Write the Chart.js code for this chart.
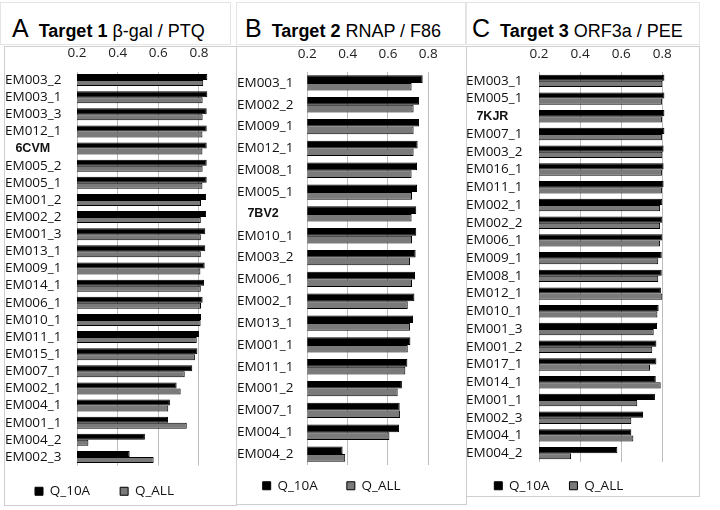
<!DOCTYPE html>
<html>
<head>
<meta charset="utf-8">
<script src="https://cdn.jsdelivr.net/npm/chart.js@4/dist/chart.umd.min.js"></script>
<style>
  body { margin: 0; background: #fff; }
  #page { position: relative; width: 720px; height: 510px; overflow: hidden; }
  .box { position: absolute; border: 1px solid #cfcfcf; box-sizing: border-box; }
  .tbox { position: absolute; border: 1px solid #e4e4e4; box-sizing: border-box; }
  .title { position: absolute; font-family: 'Liberation Sans', Arial, sans-serif; font-size: 18px; line-height: 24px; color: #000; white-space: nowrap; }
  .title .big { font-size: 25px; margin-right: 5px; }
  canvas { position: absolute; }
</style>
</head>
<body>
<div id="page">
  <div class="tbox" style="left:0;top:2px;width:231px;height:43px"></div>
  <div class="tbox" style="left:236px;top:2px;width:230px;height:43px"></div>
  <div class="tbox" style="left:466px;top:2px;width:234px;height:43px"></div>

  <div class="box" style="left:4px;top:46px;width:233px;height:460px"></div>
  <div class="box" style="left:236px;top:46px;width:231px;height:459px"></div>
  <div class="box" style="left:466px;top:46px;width:234px;height:451px"></div>

  <div class="title" style="left:12px;top:16px"><span class="big">A</span> <b>Target 1</b> β-gal / PTQ</div>
  <div class="title" style="left:245px;top:16px"><span class="big">B</span> <b>Target 2</b> RNAP / F86</div>
  <div class="title" style="left:472px;top:16px"><span class="big">C</span> <b>Target 3</b> ORF3a / PEE</div>

  <canvas id="chartA" width="228" height="461" style="left:5px;top:45px"></canvas>
  <canvas id="chartB" width="227" height="460" style="left:237px;top:45px"></canvas>
  <canvas id="chartC" width="228" height="452" style="left:466px;top:45px"></canvas>
</div>

<script>
// datos
const seriesNames = ['Q_10A', 'Q_ALL'];
const xTicks = [0.2, 0.4, 0.6, 0.8];

const catsA = ['EM003_2', 'EM003_1', 'EM003_3', 'EM012_1', '6CVM', 'EM005_2', 'EM005_1', 'EM001_2',
  'EM002_2', 'EM001_3', 'EM013_1', 'EM009_1', 'EM014_1', 'EM006_1', 'EM010_1', 'EM011_1',
  'EM015_1', 'EM007_1', 'EM002_1', 'EM004_1', 'EM001_1', 'EM004_2', 'EM002_3'];
const q10A_A = [0.841, 0.841, 0.838, 0.838, 0.838, 0.838, 0.838, 0.835, 0.835, 0.831, 0.831, 0.828,
  0.825, 0.818, 0.810, 0.800, 0.792, 0.767, 0.690, 0.657, 0.648, 0.534, 0.459];
const qAll_A = [0.821, 0.818, 0.818, 0.817, 0.817, 0.818, 0.817, 0.810, 0.809, 0.809, 0.809, 0.807,
  0.809, 0.810, 0.808, 0.789, 0.780, 0.730, 0.710, 0.649, 0.740, 0.256, 0.577];

const catsB = ['EM003_1', 'EM002_2', 'EM009_1', 'EM012_1', 'EM008_1', 'EM005_1', '7BV2', 'EM010_1',
  'EM003_2', 'EM006_1', 'EM002_1', 'EM013_1', 'EM001_1', 'EM011_1', 'EM001_2', 'EM007_1',
  'EM004_1', 'EM004_2'];
const q10A_B = [0.772, 0.754, 0.754, 0.747, 0.744, 0.744, 0.740, 0.740, 0.737, 0.734, 0.731, 0.724,
  0.711, 0.696, 0.669, 0.658, 0.655, 0.375];
const qAll_B = [0.717, 0.727, 0.727, 0.727, 0.717, 0.719, 0.717, 0.719, 0.709, 0.719, 0.698, 0.709,
  0.698, 0.686, 0.648, 0.660, 0.607, 0.388];

const catsC = ['EM003_1', 'EM005_1', '7KJR', 'EM007_1', 'EM003_2', 'EM016_1', 'EM011_1', 'EM002_1',
  'EM002_2', 'EM006_1', 'EM009_1', 'EM008_1', 'EM012_1', 'EM010_1', 'EM001_3', 'EM001_2',
  'EM017_1', 'EM014_1', 'EM001_1', 'EM002_3', 'EM004_1', 'EM004_2'];
const q10A_C = [0.810, 0.810, 0.810, 0.810, 0.806, 0.806, 0.806, 0.800, 0.800, 0.800, 0.797, 0.797,
  0.793, 0.782, 0.774, 0.771, 0.771, 0.768, 0.764, 0.706, 0.649, 0.581];
const qAll_C = [0.800, 0.798, 0.798, 0.798, 0.800, 0.798, 0.798, 0.789, 0.789, 0.789, 0.780, 0.780,
  0.800, 0.776, 0.758, 0.751, 0.740, 0.792, 0.678, 0.649, 0.659, 0.356];

// mueve la leyenda un poco (dx, dy); el borde de abajo queda al final del canvas
const moverLeyenda = {
  id: 'moverLeyenda',
  afterLayout(chart, args, opts) {
    const lg = chart.legend;
    if (!lg) return;
    lg.left += opts.dx; lg.right += opts.dx;
    lg.top += opts.dy;
    lg.bottom = chart.height;
  }
};

function crearPanel(id, cats, serie1, serie2, refLabel, lay) {
  const ctx = document.getElementById(id).getContext('2d');
  return new Chart(ctx, {
    type: 'bar',
    data: {
      labels: cats,
      datasets: [
        { label: seriesNames[0], data: serie1, backgroundColor: '#000000', borderColor: '#000000', borderWidth: 1 },
        { label: seriesNames[1], data: serie2, backgroundColor: '#7a7a7a', borderColor: '#000000', borderWidth: 1 }
      ]
    },
    options: {
      indexAxis: 'y',
      responsive: false,
      animation: false,
      categoryPercentage: 0.7,
      barPercentage: 1.0,
      layout: { padding: { left: 0, right: lay.right, top: 0, bottom: 0 } },
      scales: {
        x: {
          position: 'top',
          min: 0.2,
          max: 0.9,
          afterBuildTicks: a => { a.ticks = xTicks.map(v => ({ value: v })); },
          afterFit: a => { a.height = lay.top; },
          grid: { color: '#bdbdbd', drawTicks: false },
          border: { display: false },
          ticks: { padding: 10, color: '#222', font: { family: 'Open Sans', size: 13.5 }, callback: v => v.toFixed(1) }
        },
        y: {
          afterFit: a => { a.width = lay.yw; },
          grid: { display: false },
          border: { display: false },
          ticks: {
            crossAlign: 'far',
            padding: 0,
            autoSkip: false,
            color: '#111',
            font: c => cats[c.index] === refLabel
              ? { family: 'Liberation Sans', size: 12.5, weight: 'bold' }
              : { family: 'Open Sans', size: 13.5 },
            callback: (v, i) => cats[i] === refLabel ? '   ' + cats[i] : cats[i]
          }
        }
      },
      plugins: {
        legend: {
          position: 'bottom',
          align: 'start',
          maxHeight: lay.legH,
          labels: { boxWidth: 8, boxHeight: 8, padding: lay.p, color: '#111', font: { family: 'Open Sans', size: 13.5 } }
        },
        tooltip: { enabled: false },
        moverLeyenda: { dx: lay.dx, dy: lay.dy }
      }
    },
    plugins: [moverLeyenda]
  });
}

crearPanel('chartA', catsA, q10A_A, qAll_A, '6CVM', { yw: 72, right: 13.7, top: 26.5, legH: 40.5, p: 30, dx: 0, dy: -11 });
crearPanel('chartB', catsB, q10A_B, qAll_B, '7BV2', { yw: 70.3, right: 15.5, top: 27, legH: 40, p: 29, dx: -3.3, dy: -15 });
crearPanel('chartC', catsC, q10A_C, qAll_C, '7KJR', { yw: 73, right: 11.1, top: 27, legH: 35, p: 20, dx: 8.3, dy: -3 });
</script>
</body>
</html>
